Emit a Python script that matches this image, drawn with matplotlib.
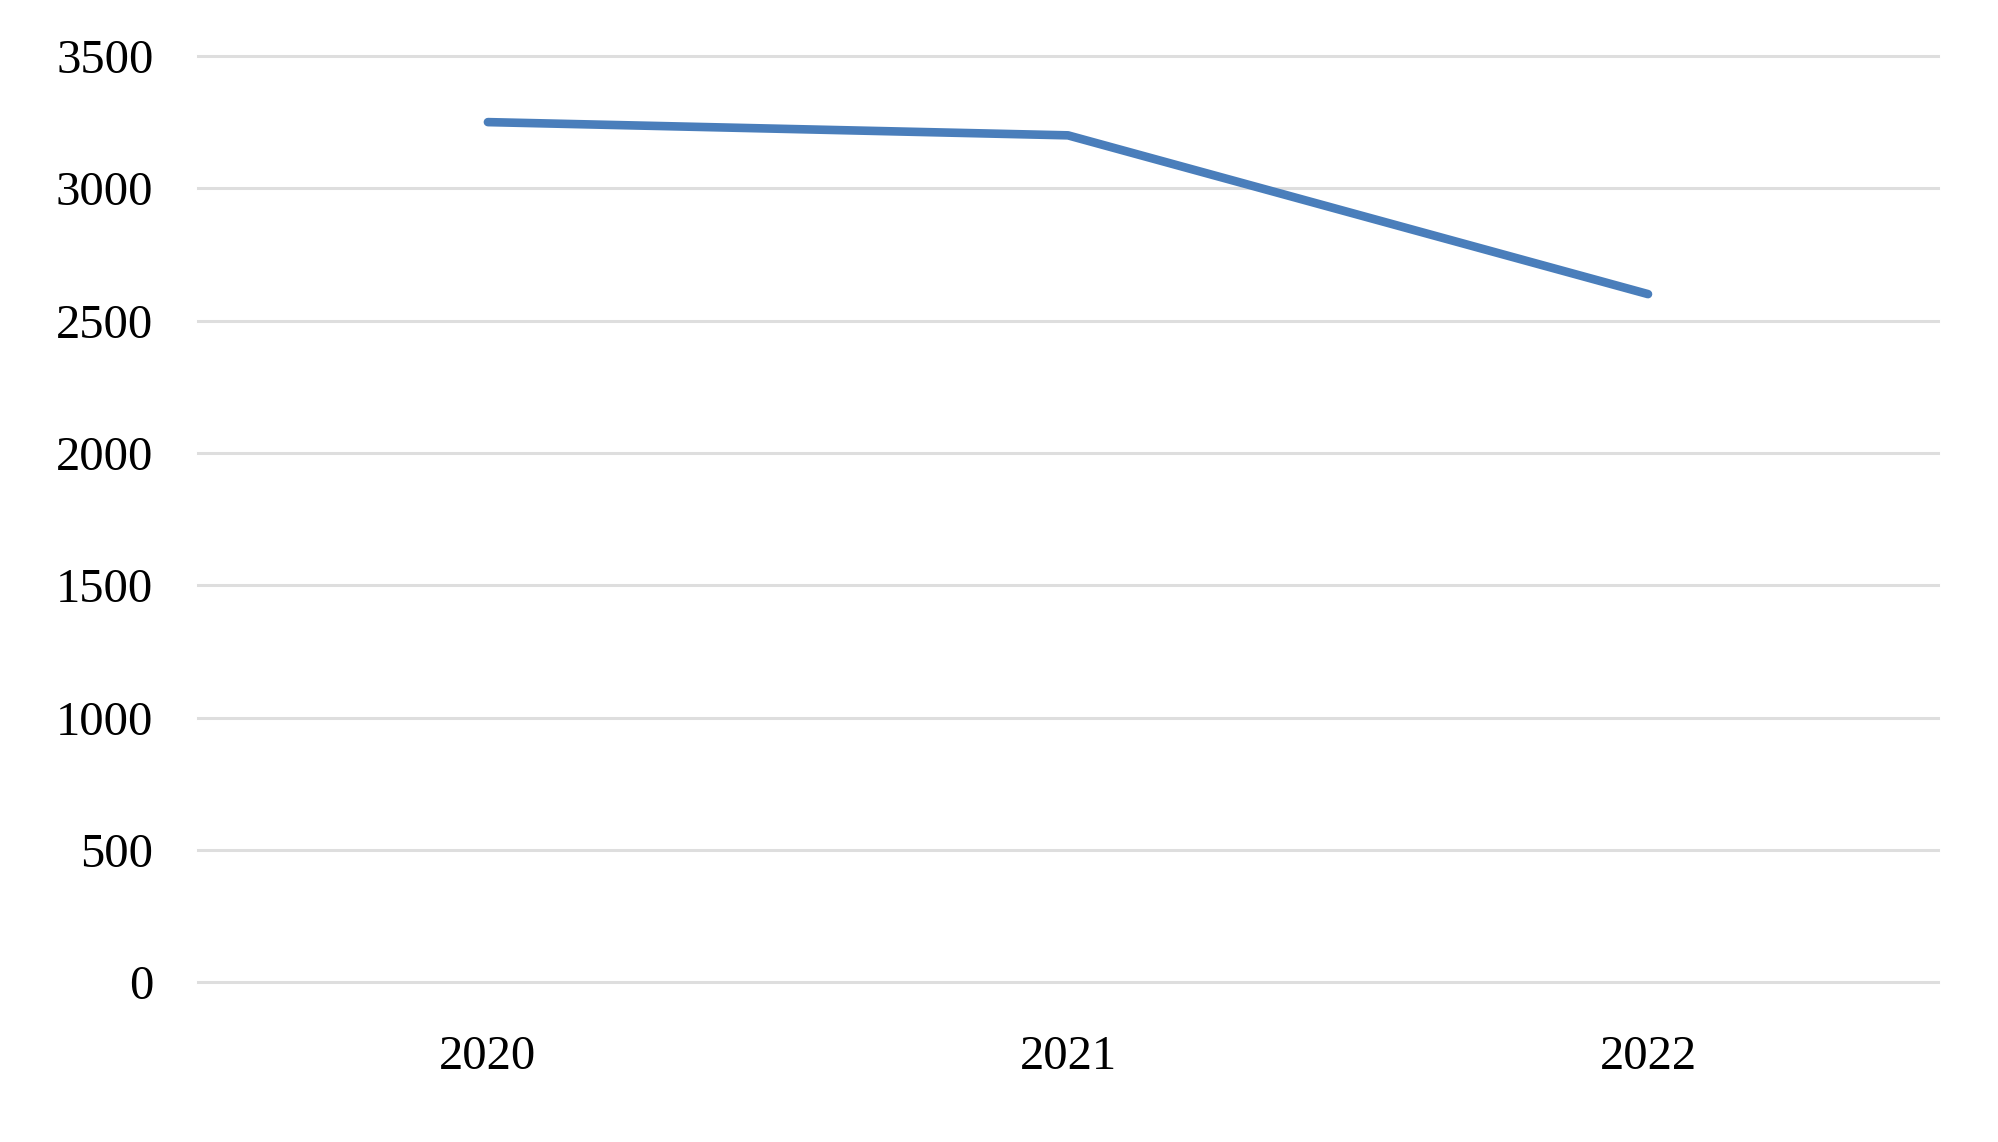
import matplotlib
matplotlib.use("Agg")
import matplotlib.pyplot as plt

years = ["2020", "2021", "2022"]
values = [3250, 3200, 2600]
yticks = [0, 500, 1000, 1500, 2000, 2500, 3000, 3500]

plt.rcParams['font.family'] = ['Liberation Serif', 'DejaVu Serif']

fig = plt.figure(figsize=(19.99, 11.42), dpi=100)
ax = fig.add_axes([0.099, 0.140, 0.8705, 0.811])
x = list(range(len(years)))
ax.plot(x, values, color="#4A7EBB", linewidth=6.2, solid_capstyle="round",
        solid_joinstyle="round", zorder=3)
ax.set_xlim(-0.5, len(years) - 0.5)
ax.set_ylim(0, 3500)
ax.set_yticks(yticks)
ax.set_yticklabels([str(v) for v in yticks])
ax.set_xticks(x)
ax.set_xticklabels(years)
for s in ax.spines.values():
    s.set_visible(False)
ax.yaxis.grid(True, color="#dedede", linewidth=2.2)
for gl in ax.get_ygridlines():
    gl.set_clip_on(False)
ax.set_axisbelow(True)
ax.tick_params(axis="both", length=0, labelsize=35, colors="black")
ax.tick_params(axis="y", pad=32)
ax.tick_params(axis="x", pad=38)
fig.savefig("out.png", dpi=100, facecolor="white")
